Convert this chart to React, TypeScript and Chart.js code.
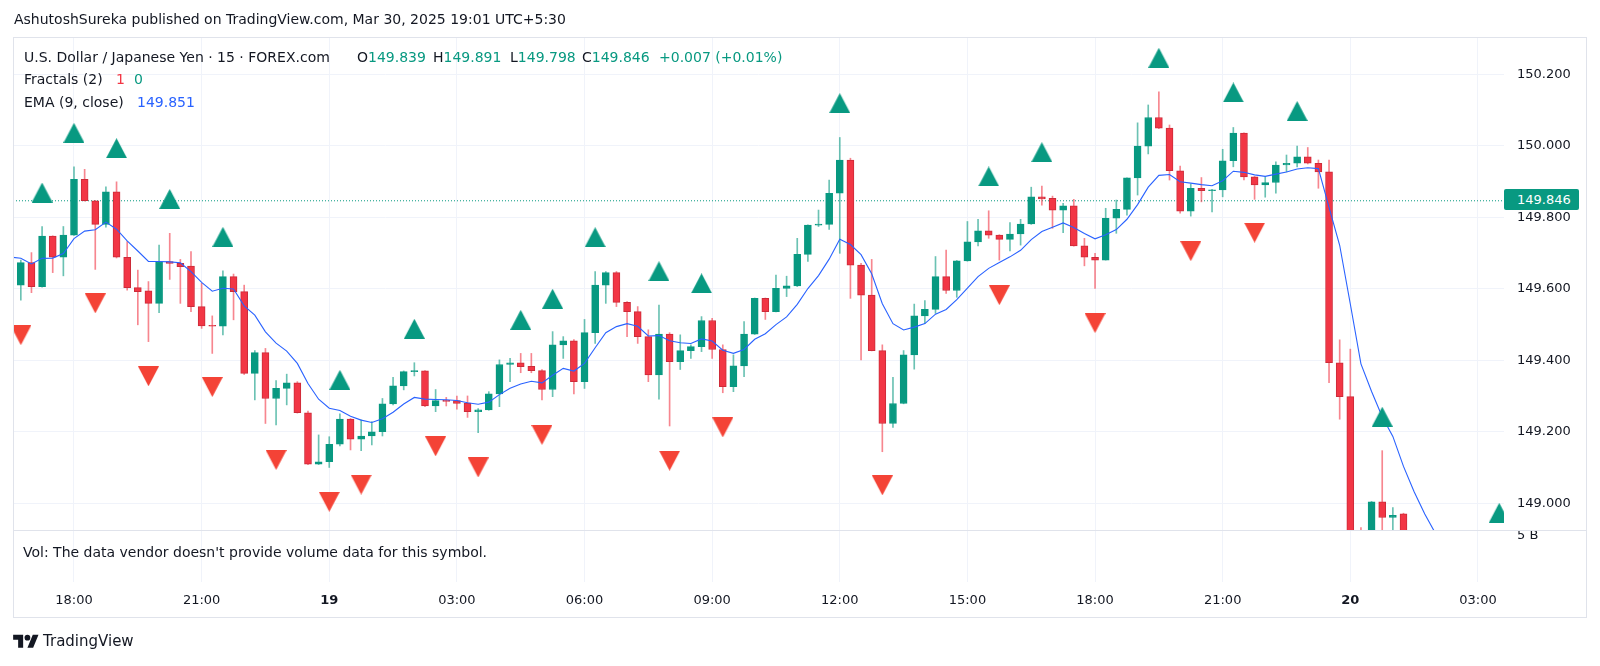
import React, { useEffect, useRef } from 'react';
import { Chart, registerables } from 'chart.js';

Chart.register(...registerables);

// ---------------- data ----------------
// 15-minute USD/JPY bars; bar number 0 = Mar 18, 18:00
const FIRST_BAR = -6;

const opens = [
  149.652, 149.610, 149.673, 149.606, 149.747, 149.688,
  149.750, 149.906, 149.846, 149.780, 149.871, 149.688, 149.603, 149.594, 149.559, 149.676,
  149.671, 149.663, 149.550, 149.496, 149.495, 149.634, 149.592, 149.363, 149.421, 149.293,
  149.321, 149.337, 149.253, 149.109, 149.116, 149.165, 149.235, 149.179, 149.188, 149.200,
  149.278, 149.328, 149.368, 149.370, 149.272, 149.287, 149.287, 149.280, 149.256, 149.261,
  149.306, 149.388, 149.393, 149.383, 149.371, 149.318, 149.443, 149.454, 149.340, 149.477,
  149.610, 149.645, 149.562, 149.536, 149.466, 149.359, 149.473, 149.396, 149.427, 149.438,
  149.511, 149.430, 149.326, 149.384, 149.473, 149.573, 149.536, 149.601, 149.608, 149.696,
  149.778, 149.780, 149.867, 149.960, 149.666, 149.582, 149.427, 149.223, 149.279, 149.415,
  149.524, 149.542, 149.634, 149.595, 149.678, 149.731, 149.762, 149.750, 149.738, 149.753,
  149.781, 149.857, 149.853, 149.820, 149.832, 149.720, 149.688, 149.680, 149.797, 149.822,
  149.910, 149.999, 150.079, 150.049, 149.930, 149.817, 149.881, 149.874, 149.876, 149.958,
  150.035, 149.913, 149.890, 149.897, 149.946, 149.951, 149.969, 149.951, 149.927, 149.393,
  149.298, 148.900, 148.720, 149.004, 148.960, 148.970, 148.767, 148.750, 148.720,
];

const highs = [
  149.660, 149.680, 149.701, 149.774, 149.748, 149.774,
  149.941, 149.934, 149.847, 149.885, 149.899, 149.732, 149.652, 149.620, 149.722, 149.755,
  149.682, 149.704, 149.615, 149.524, 149.650, 149.641, 149.610, 149.427, 149.433, 149.343,
  149.361, 149.340, 149.258, 149.191, 149.186, 149.250, 149.237, 149.233, 149.228, 149.293,
  149.352, 149.370, 149.393, 149.371, 149.318, 149.296, 149.300, 149.300, 149.265, 149.312,
  149.401, 149.405, 149.419, 149.419, 149.374, 149.480, 149.466, 149.458, 149.514, 149.648,
  149.648, 149.648, 149.564, 149.550, 149.485, 149.554, 149.477, 149.471, 149.443, 149.522,
  149.517, 149.443, 149.415, 149.508, 149.574, 149.574, 149.638, 149.635, 149.741, 149.779,
  149.820, 149.904, 150.023, 149.965, 149.671, 149.682, 149.443, 149.352, 149.427, 149.557,
  149.567, 149.690, 149.708, 149.679, 149.788, 149.794, 149.818, 149.751, 149.785, 149.794,
  149.884, 149.887, 149.859, 149.839, 149.850, 149.741, 149.699, 149.825, 149.848, 149.910,
  150.064, 150.114, 150.151, 150.058, 149.943, 149.893, 149.911, 149.878, 149.990, 150.051,
  150.036, 149.914, 149.913, 149.955, 149.974, 149.999, 149.995, 149.960, 149.960, 149.457,
  149.431, 148.932, 149.005, 149.147, 148.988, 148.972, 148.900, 148.850, 148.820,
];

const lows = [
  149.600, 149.568, 149.589, 149.604, 149.645, 149.636,
  149.749, 149.845, 149.654, 149.772, 149.686, 149.596, 149.499, 149.452, 149.533, 149.626,
  149.559, 149.536, 149.489, 149.419, 149.471, 149.513, 149.360, 149.289, 149.223, 149.219,
  149.275, 149.252, 149.108, 149.108, 149.100, 149.160, 149.149, 149.147, 149.163, 149.188,
  149.275, 149.317, 149.356, 149.270, 149.256, 149.272, 149.263, 149.240, 149.197, 149.260,
  149.270, 149.340, 149.365, 149.365, 149.289, 149.298, 149.405, 149.306, 149.321, 149.447,
  149.559, 149.550, 149.466, 149.447, 149.340, 149.291, 149.216, 149.374, 149.405, 149.424,
  149.405, 149.309, 149.312, 149.354, 149.472, 149.514, 149.535, 149.578, 149.606, 149.676,
  149.774, 149.766, 149.699, 149.573, 149.401, 149.426, 149.144, 149.212, 149.278, 149.375,
  149.503, 149.531, 149.587, 149.576, 149.677, 149.720, 149.741, 149.680, 149.706, 149.722,
  149.780, 149.834, 149.769, 149.757, 149.719, 149.664, 149.601, 149.680, 149.755, 149.806,
  149.862, 149.977, 150.048, 149.904, 149.811, 149.803, 149.843, 149.815, 149.857, 149.941,
  149.904, 149.850, 149.856, 149.867, 149.927, 149.941, 149.949, 149.881, 149.337, 149.235,
  148.860, 148.680, 148.700, 148.900, 148.900, 148.740, 148.700, 148.680, 148.660,
];

const closes = [
  149.610, 149.673, 149.606, 149.747, 149.688, 149.750,
  149.906, 149.846, 149.780, 149.871, 149.688, 149.603, 149.592, 149.559, 149.676, 149.671,
  149.662, 149.550, 149.496, 149.495, 149.634, 149.592, 149.363, 149.421, 149.293, 149.321,
  149.337, 149.253, 149.109, 149.116, 149.165, 149.235, 149.179, 149.188, 149.200, 149.278,
  149.328, 149.368, 149.370, 149.272, 149.287, 149.285, 149.279, 149.256, 149.261, 149.306,
  149.388, 149.393, 149.382, 149.371, 149.318, 149.443, 149.454, 149.340, 149.477, 149.610,
  149.645, 149.562, 149.536, 149.466, 149.359, 149.473, 149.396, 149.427, 149.438, 149.511,
  149.430, 149.326, 149.384, 149.473, 149.573, 149.536, 149.601, 149.608, 149.696, 149.778,
  149.781, 149.867, 149.960, 149.666, 149.582, 149.427, 149.223, 149.279, 149.415, 149.524,
  149.542, 149.634, 149.595, 149.678, 149.731, 149.762, 149.750, 149.738, 149.753, 149.781,
  149.857, 149.851, 149.820, 149.832, 149.720, 149.688, 149.680, 149.797, 149.822, 149.910,
  149.999, 150.079, 150.049, 149.930, 149.817, 149.881, 149.874, 149.876, 149.958, 150.035,
  149.913, 149.890, 149.897, 149.946, 149.951, 149.969, 149.951, 149.927, 149.393, 149.298,
  148.900, 148.720, 149.004, 148.960, 148.966, 148.767, 148.750, 148.720, 148.700,
];

// EMA(9, close): value carried in from the bar before the first visible one
const EMA_LENGTH = 9;
const EMA_PRIOR = 149.708;

// Fractals (2): bar numbers and marker levels
const upFractalBars = [-3, 0, 4, 9, 14, 25, 32, 42, 45, 49, 55, 59, 72, 86, 91, 102, 109, 115, 123, 134];
const upFractalLevels = [149.869, 150.036, 149.993, 149.851, 149.745, 149.345, 149.488, 149.513, 149.572, 149.744, 149.649, 149.615, 150.119, 149.914, 149.982, 150.246, 150.149, 150.097, 149.242, 148.973];
const downFractalBars = [-5, 2, 7, 13, 19, 24, 27, 34, 38, 44, 56, 61, 76, 87, 96, 105, 111];
const downFractalLevels = [149.470, 149.559, 149.355, 149.325, 149.121, 149.004, 149.052, 149.159, 149.100, 149.191, 149.119, 149.212, 149.050, 149.582, 149.504, 149.705, 149.757];

const LAST_PRICE = 149.846;

// axes
const timeTickBars = [0, 12, 24, 36, 48, 60, 72, 84, 96, 108, 120, 132];
const timeTickLabels = ['18:00', '21:00', '19', '03:00', '06:00', '09:00', '12:00', '15:00', '18:00', '21:00', '20', '03:00'];
const timeTickIsDay = [false, false, true, false, false, false, false, false, false, false, true, false];
const priceTicks = [149.0, 149.2, 149.4, 149.6, 149.8, 150.0, 150.2];

// visible window
const VIEW_MIN = -5.735;
const VIEW_MAX = 134.45;
const PRICE_MIN = 148.7796;
const PRICE_MAX = 150.3013;

// legend texts
const publishedText = 'AshutoshSureka published on TradingView.com, Mar 30, 2025 19:01 UTC+5:30';
const symbolTitle = 'U.S. Dollar / Japanese Yen · 15 · FOREX.com';
const ohlcLetters = ['O', 'H', 'L', 'C'];
const ohlcValues = ['149.839', '149.891', '149.798', '149.846'];
const changeText = '+0.007 (+0.01%)';
const emaLegendValue = '149.851';
const volText = "Vol: The data vendor doesn't provide volume data for this symbol.";

// ---------------- styles ----------------
const FONT = "'DejaVu Sans', 'Noto Sans', sans-serif";
const TEXT = '#131722';
const GREEN = '#089981';
const RED = '#F23645';
const RED_BORDER = '#CC2B39';
const FRACTAL_DOWN = '#F44336';
const EMA_BLUE = '#2962FF';
const GRID = '#F0F3FA';
const FRAME = '#E0E3EB';

function makeTriangle(color: string, up: boolean): HTMLCanvasElement {
  const c = document.createElement('canvas');
  c.width = 21;
  c.height = 20;
  const g = c.getContext('2d')!;
  g.fillStyle = color;
  g.beginPath();
  if (up) {
    g.moveTo(10.5, 0);
    g.lineTo(21, 20);
    g.lineTo(0, 20);
  } else {
    g.moveTo(0, 0);
    g.lineTo(21, 0);
    g.lineTo(10.5, 20);
  }
  g.closePath();
  g.fill();
  return c;
}

export default function App() {
  const canvasRef = useRef<HTMLCanvasElement | null>(null);

  useEffect(() => {
    const canvas = canvasRef.current;
    if (!canvas) return;

    const xs = opens.map((_, k) => FIRST_BAR + k);
    const isUp = opens.map((o, k) => closes[k] >= o);
    const bodyData = xs.map((x, k) => ({ x, y: [opens[k], closes[k]] }));
    const wickData = xs.map((x, k) => ({ x, y: [lows[k], highs[k]] }));
    const alpha = 2 / (EMA_LENGTH + 1);
    let prev = EMA_PRIOR;
    const emaData = xs.map((x, k) => {
      prev = prev + alpha * (closes[k] - prev);
      return { x, y: prev };
    });
    const upData = upFractalBars.map((x, k) => ({ x, y: upFractalLevels[k] }));
    const downData = downFractalBars.map((x, k) => ({ x, y: downFractalLevels[k] }));
    const lastLine = [{ x: VIEW_MIN, y: LAST_PRICE }, { x: VIEW_MAX, y: LAST_PRICE }];

    const clip = { left: 0, top: 0, right: 0, bottom: -52 };
    const upTri = makeTriangle(GREEN, true);
    const downTri = makeTriangle(FRACTAL_DOWN, false);

    const chart = new Chart(canvas, {
      type: 'bar',
      data: {
        datasets: [
          {
            type: 'scatter',
            data: upData,
            pointStyle: upTri,
            pointRadius: 10,
            showLine: false,
            order: 0,
            clip,
          },
          {
            type: 'scatter',
            data: downData,
            pointStyle: downTri,
            pointRadius: 10,
            showLine: false,
            order: 0,
            clip,
          },
          {
            type: 'line',
            data: emaData,
            borderColor: EMA_BLUE,
            borderWidth: 1.1,
            pointRadius: 0,
            tension: 0,
            fill: false,
            order: 1,
            clip,
          },
          {
            type: 'bar',
            data: bodyData,
            backgroundColor: isUp.map((u) => (u ? GREEN : RED)),
            borderColor: isUp.map((u) => (u ? GREEN : RED_BORDER)),
            borderWidth: 1,
            borderSkipped: false,
            barThickness: 7,
            minBarLength: 1,
            grouped: false,
            order: 2,
            clip,
          },
          {
            type: 'bar',
            data: wickData,
            backgroundColor: isUp.map((u) => (u ? 'rgba(8,153,129,0.6)' : 'rgba(242,54,69,0.6)')),
            borderWidth: 0,
            barThickness: 1,
            minBarLength: 1,
            grouped: false,
            order: 3,
            clip,
          },
          {
            type: 'line',
            data: lastLine,
            borderColor: GREEN,
            borderWidth: 1,
            borderDash: [1, 2],
            pointRadius: 0,
            order: 4,
            clip,
          },
        ],
      } as any,
      options: {
        animation: false,
        responsive: false,
        devicePixelRatio: 1,
        events: [],
        layout: { padding: { left: 13, right: 13, top: 38, bottom: 48 } },
        plugins: { legend: { display: false }, tooltip: { enabled: false } },
        scales: {
          x: {
            type: 'linear',
            min: VIEW_MIN,
            max: VIEW_MAX,
            bounds: 'data',
            offset: false,
            grid: { color: GRID, drawTicks: false, offset: false, lineWidth: 1 },
            border: { display: false },
            ticks: {
              autoSkip: false,
              maxRotation: 0,
              padding: 11,
              color: TEXT,
              font: (ctx: any) => ({
                family: FONT,
                size: 13,
                weight: timeTickIsDay[ctx.index] ? 'bold' : 'normal',
              }),
              callback: (_v: any, i: number) => timeTickLabels[i],
            },
            afterBuildTicks: (scale: any) => {
              scale.ticks = timeTickBars.map((v) => ({ value: v }));
            },
            afterFit: (scale: any) => {
              scale.height = 36;
            },
          },
          y: {
            type: 'linear',
            position: 'right',
            min: PRICE_MIN,
            max: PRICE_MAX,
            bounds: 'data',
            beginAtZero: false,
            grid: { color: GRID, drawTicks: false, lineWidth: 1 },
            border: { display: false },
            ticks: {
              padding: 13,
              color: TEXT,
              font: { family: FONT, size: 13 },
              callback: (v: any) => Number(v).toFixed(3),
            },
            afterBuildTicks: (scale: any) => {
              scale.ticks = priceTicks.map((v) => ({ value: v }));
            },
            afterFit: (scale: any) => {
              scale.width = 83;
            },
          },
        },
      } as any,
    });

    return () => chart.destroy();
  }, []);

  const abs = (left: number, top: number, extra: any = {}) => ({
    position: 'absolute' as const,
    left,
    top,
    whiteSpace: 'nowrap' as const,
    lineHeight: '18px',
    ...extra,
  });
  const ohlcLeft = [357, 433, 510, 582];

  return (
    <div
      style={{
        position: 'absolute',
        left: 0,
        top: 0,
        width: 1600,
        height: 666,
        background: '#ffffff',
        overflow: 'hidden',
        fontFamily: FONT,
        color: TEXT,
      }}
    >
      <canvas
        ref={canvasRef}
        width={1600}
        height={666}
        style={{ position: 'absolute', left: 0, top: 0, width: 1600, height: 666 }}
      />
      {/* pane frame and volume pane separator */}
      <div
        style={{
          position: 'absolute',
          left: 13,
          top: 37,
          width: 1574,
          height: 581,
          border: `1px solid ${FRAME}`,
          boxSizing: 'border-box',
          pointerEvents: 'none',
        }}
      />
      <div style={{ position: 'absolute', left: 13, top: 530, width: 1574, height: 1, background: FRAME }} />

      {/* published line */}
      <div style={abs(14, 10, { fontSize: 14 })}>{publishedText}</div>

      {/* legend */}
      <div style={abs(24, 48, { fontSize: 14 })}>{symbolTitle}</div>
      {ohlcLetters.map((l, i) => (
        <div key={l} style={abs(ohlcLeft[i], 48, { fontSize: 14 })}>
          {l}
          <span style={{ color: GREEN }}>{ohlcValues[i]}</span>
        </div>
      ))}
      <div style={abs(659, 48, { fontSize: 14, color: GREEN })}>{changeText}</div>

      <div style={abs(24, 70, { fontSize: 14 })}>Fractals (2)</div>
      <div style={abs(116, 70, { fontSize: 14, color: RED })}>1</div>
      <div style={abs(134, 70, { fontSize: 14, color: GREEN })}>0</div>

      <div style={abs(24, 93, { fontSize: 14 })}>EMA (9, close)</div>
      <div style={abs(137, 93, { fontSize: 14, color: EMA_BLUE })}>{emaLegendValue}</div>

      {/* last price tag */}
      <div
        style={{
          position: 'absolute',
          left: 1504,
          top: 189,
          width: 75,
          height: 21,
          background: GREEN,
          borderRadius: 2,
          color: '#ffffff',
          fontSize: 13,
          lineHeight: '21px',
          paddingLeft: 13,
          boxSizing: 'border-box',
          whiteSpace: 'nowrap',
        }}
      >
        {LAST_PRICE.toFixed(3)}
      </div>

      {/* volume pane */}
      <div style={abs(23, 543, { fontSize: 14 })}>{volText}</div>
      <div style={{ position: 'absolute', left: 1517, top: 531, height: 10, width: 40, overflow: 'hidden' }}>
        <div style={{ position: 'absolute', left: 0, top: -3, fontSize: 13, lineHeight: '13px', whiteSpace: 'nowrap' }}>5 B</div>
      </div>

      {/* footer logo */}
      <svg style={{ position: 'absolute', left: 13, top: 632 }} width={26} height={20} viewBox="0 0 36 28">
        <path d="M14 22H7V11H0V4h14v18zM28 22h-8l7.5-18h8L28 22z" fill={TEXT} />
        <circle cx="20" cy="8" r="4" fill={TEXT} />
      </svg>
      <div style={abs(43, 632, { fontSize: 15 })}>TradingView</div>
    </div>
  );
}
